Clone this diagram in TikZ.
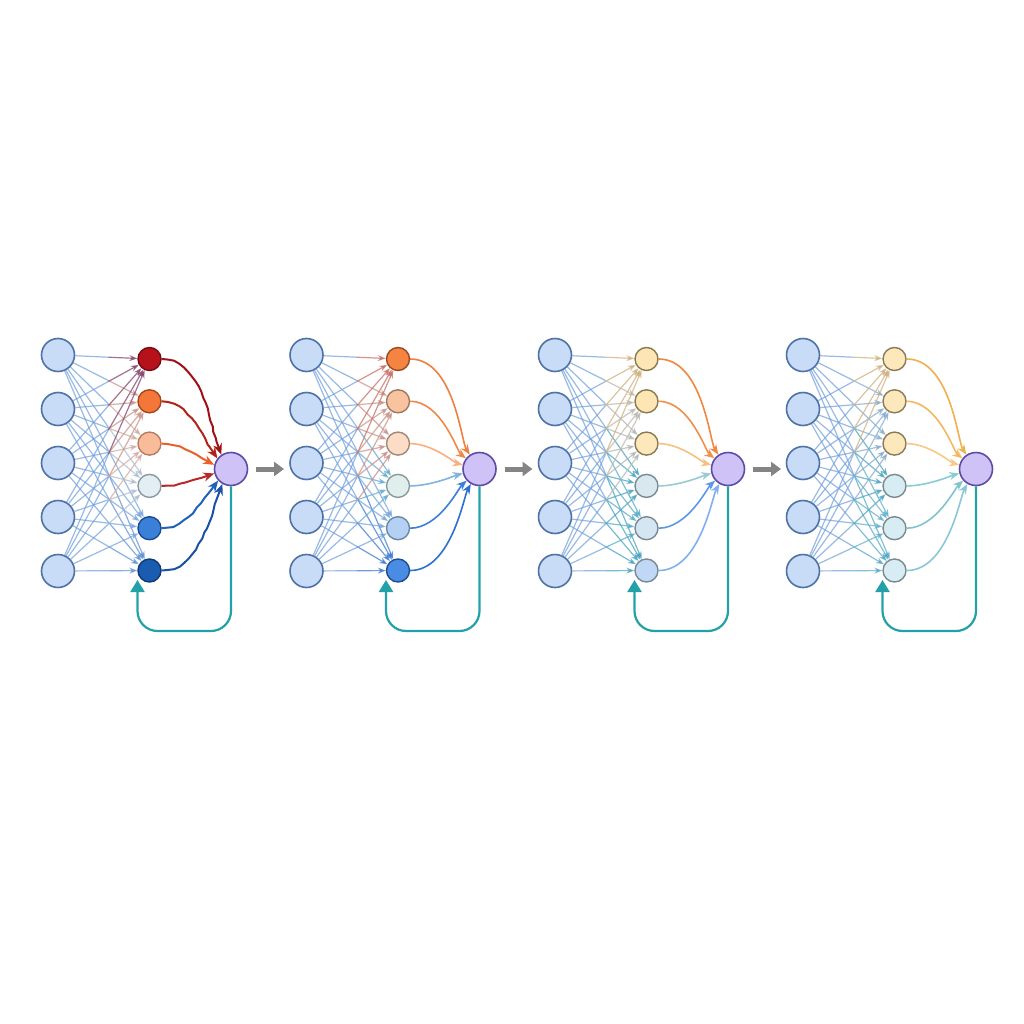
\documentclass[tikz,border=0pt]{standalone}
\usetikzlibrary{arrows.meta,calc,decorations.pathmorphing}
\definecolor{inpf}{HTML}{C8DCF8}
\definecolor{inpd}{HTML}{4E72A6}
\definecolor{outf}{HTML}{CFC2F6}
\definecolor{outd}{HTML}{5E4CA4}
\definecolor{ihblue}{HTML}{6E9EDC}
\definecolor{fbteal}{HTML}{22A2A8}
\definecolor{arrgray}{HTML}{848484}
% panel 1 hidden: fill, border, out-edge, in-tint
\definecolor{hf11}{HTML}{B5121B}\definecolor{hd11}{HTML}{7A0A10}\definecolor{he11}{HTML}{A01018}\definecolor{ht11}{HTML}{8A2848}
\definecolor{hf12}{HTML}{F4773A}\definecolor{hd12}{HTML}{A8451A}\definecolor{he12}{HTML}{B02418}\definecolor{ht12}{HTML}{E8906A}
\definecolor{hf13}{HTML}{F9BC9A}\definecolor{hd13}{HTML}{B87B60}\definecolor{he13}{HTML}{E8602A}\definecolor{ht13}{HTML}{F0B090}
\definecolor{hf14}{HTML}{E2EEF4}\definecolor{hd14}{HTML}{8A9AA2}\definecolor{he14}{HTML}{B82828}\definecolor{ht14}{HTML}{C4C8CC}
\definecolor{hf15}{HTML}{3A80D8}\definecolor{hd15}{HTML}{1A4A90}\definecolor{he15}{HTML}{2060B8}\definecolor{ht15}{HTML}{80A8E0}
\definecolor{hf16}{HTML}{1A5CB0}\definecolor{hd16}{HTML}{0E3A78}\definecolor{he16}{HTML}{1A50A8}\definecolor{ht16}{HTML}{6090D0}
% panel 2
\definecolor{hf21}{HTML}{F58342}\definecolor{hd21}{HTML}{9A4A20}\definecolor{he21}{HTML}{F08040}\definecolor{ht21}{HTML}{E86040}
\definecolor{hf22}{HTML}{F9C3A0}\definecolor{hd22}{HTML}{A07860}\definecolor{he22}{HTML}{F08848}\definecolor{ht22}{HTML}{E8906A}
\definecolor{hf23}{HTML}{FCDCC6}\definecolor{hd23}{HTML}{A08878}\definecolor{he23}{HTML}{F8B080}\definecolor{ht23}{HTML}{E88A70}
\definecolor{hf24}{HTML}{E0EEEE}\definecolor{hd24}{HTML}{8A9A9A}\definecolor{he24}{HTML}{80B4E0}\definecolor{ht24}{HTML}{60B0D0}
\definecolor{hf25}{HTML}{B4D0F2}\definecolor{hd25}{HTML}{6A88A8}\definecolor{he25}{HTML}{3A80D8}\definecolor{ht25}{HTML}{7AA8D8}
\definecolor{hf26}{HTML}{4A8CE4}\definecolor{hd26}{HTML}{1E4E90}\definecolor{he26}{HTML}{2E70D0}\definecolor{ht26}{HTML}{3070D0}
% panel 3
\definecolor{hf31}{HTML}{FDE6B4}\definecolor{hd31}{HTML}{8A7A50}\definecolor{he31}{HTML}{F08840}\definecolor{ht31}{HTML}{F0B860}
\definecolor{hf32}{HTML}{FDE6B4}\definecolor{hd32}{HTML}{8A7A50}\definecolor{he32}{HTML}{F0904A}\definecolor{ht32}{HTML}{D8C0A0}
\definecolor{hf33}{HTML}{FDE8BC}\definecolor{hd33}{HTML}{8A7A50}\definecolor{he33}{HTML}{F8C080}\definecolor{ht33}{HTML}{C8C0A8}
\definecolor{hf34}{HTML}{D8E8EE}\definecolor{hd34}{HTML}{7A8A94}\definecolor{he34}{HTML}{98CCD0}\definecolor{ht34}{HTML}{40A8B8}
\definecolor{hf35}{HTML}{D4E6F2}\definecolor{hd35}{HTML}{7A8A94}\definecolor{he35}{HTML}{5A98E8}\definecolor{ht35}{HTML}{50B0C0}
\definecolor{hf36}{HTML}{C0D8F6}\definecolor{hd36}{HTML}{7A8A94}\definecolor{he36}{HTML}{80B0F0}\definecolor{ht36}{HTML}{40A8B8}
% panel 4
\definecolor{hf41}{HTML}{FDE8BC}\definecolor{hd41}{HTML}{8A7A58}\definecolor{he41}{HTML}{F0B050}\definecolor{ht41}{HTML}{F0B860}
\definecolor{hf42}{HTML}{FDE8BC}\definecolor{hd42}{HTML}{8A7A58}\definecolor{he42}{HTML}{F4B860}\definecolor{ht42}{HTML}{90B0D0}
\definecolor{hf43}{HTML}{FDE8BC}\definecolor{hd43}{HTML}{8A7A58}\definecolor{he43}{HTML}{F8C888}\definecolor{ht43}{HTML}{90B0C8}
\definecolor{hf44}{HTML}{D8ECF4}\definecolor{hd44}{HTML}{7A8A90}\definecolor{he44}{HTML}{88CCD4}\definecolor{ht44}{HTML}{40A8B8}
\definecolor{hf45}{HTML}{D8ECF4}\definecolor{hd45}{HTML}{7A8A90}\definecolor{he45}{HTML}{80C4D0}\definecolor{ht45}{HTML}{60B8C8}
\definecolor{hf46}{HTML}{D8ECF4}\definecolor{hd46}{HTML}{7A8A90}\definecolor{he46}{HTML}{88C8D8}\definecolor{ht46}{HTML}{50B0C0}
\begin{document}
\pgfmathsetseed{11}
\begin{tikzpicture}[x=1pt,y=-1pt,
  inp/.style={circle,minimum size=33pt,inner sep=0pt,fill=inpf,draw=inpd,line width=1.6pt},
  hid/.style={circle,minimum size=23pt,inner sep=0pt,line width=1.4pt},
  outn/.style={circle,minimum size=33pt,inner sep=0pt,fill=outf,draw=outd,line width=1.6pt},
  ihbase/.style={ihblue,line width=1.2pt,opacity=0.7},
  ihtip/.style={line width=1.2pt,opacity=0.75,-{Stealth[length=8pt,width=6pt]}},
  ho/.style={line width=1.6pt,-{Stealth[length=10pt,width=8pt]}},
  hoP1/.style={line width=2pt,-{Stealth[length=11pt,width=9pt]},
    decorate,decoration={random steps,segment length=6pt,amplitude=0.8pt,pre length=6pt,post length=14pt}},
  hoP2/.style={},hoP3/.style={},hoP4/.style={},
  fb/.style={fbteal,line width=2.2pt,rounded corners=20pt,-{Triangle[length=12pt,width=14pt]}},
  panelarrow/.style={arrgray,line width=5pt,-{Triangle[length=10pt,width=14pt]}}]
\useasboundingbox (0,0) rectangle (1024,1024);
\fill[white] (0,0) rectangle (1024,1024);
\foreach \p/\dx in {1/0,2/248.5,3/497,4/745}{
  \foreach \i in {1,...,5}
    \node[inp] (i\p\i) at (58+\dx,355+54*\i-54) {};
  \foreach \j in {1,...,6}
    \node[hid,fill=hf\p\j,draw=hd\p\j] (h\p\j) at (149.5+\dx,359+42.3*\j-42.3) {};
  \node[outn] (o\p) at (231+\dx,469) {};
  \coordinate (fbend\p) at (137.5+\dx,580);
  \coordinate (fbbot\p) at (231+\dx,631);
}
% input -> hidden
\foreach \p in {1,...,4}{
  \foreach \i in {1,...,5}{
    \foreach \j in {1,...,6}{
      \draw[ihbase] (i\p\i) -- ($(i\p\i)!0.55!(h\p\j)$);
      \draw[ihtip,draw=ht\p\j!75!ihblue] ($(i\p\i)!0.55!(h\p\j)$) -- (h\p\j);
    }
  }
}
% hidden -> output
\foreach \p in {1,...,4}{
  \foreach \j/\a in {1/124,2/142,3/166,4/195,5/222,6/240}
    \draw[ho,hoP\p,draw=he\p\j] (h\p\j) to[out=0,in=\a,out looseness=1,in looseness=0.35] (o\p);
}
% feedback loops
\foreach \p in {1,...,4}
  \draw[fb] (o\p) -- (fbbot\p) -| (fbend\p);
% arrows between panels
\foreach \p/\q/\dx in {1/2/0,2/3/248.5,3/4/497}{
  \coordinate (pa\p) at (256+\dx,469);
  \coordinate (pb\p) at (284+\dx,469);
  \draw[panelarrow] (pa\p) -- (pb\p);
}
\end{tikzpicture}
\end{document}
